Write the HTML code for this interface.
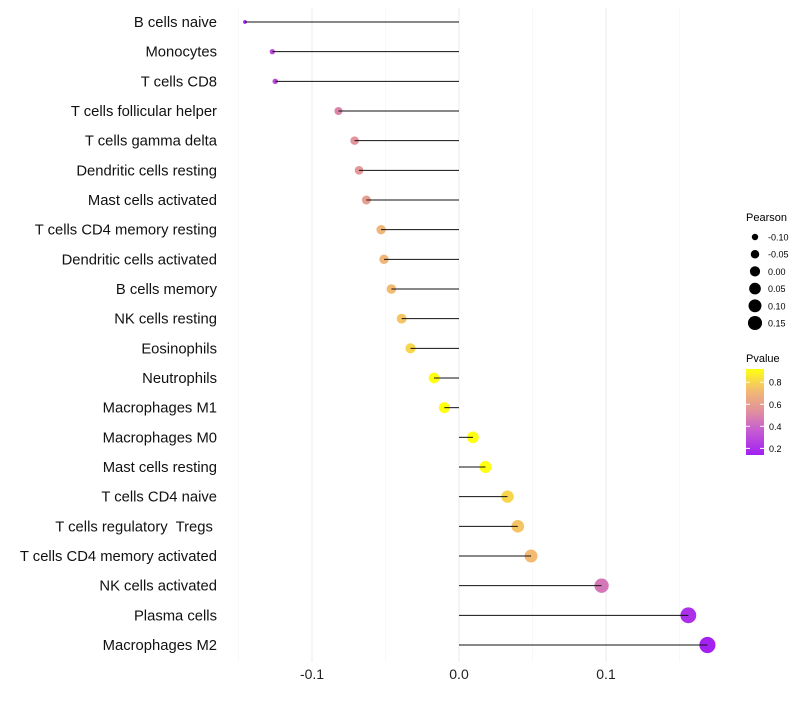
<!DOCTYPE html>
<html><head><meta charset="utf-8"><style>
body{margin:0;background:#fff;font-family:"Liberation Sans",sans-serif}
text{white-space:pre}
</style></head><body>
<svg id="chart" width="800" height="700" xmlns="http://www.w3.org/2000/svg">
<defs><linearGradient id="pg" x1="0" y1="1" x2="0" y2="0">
<stop offset="0" stop-color="#a21ff2"/><stop offset="0.3" stop-color="#c860d0"/><stop offset="0.5" stop-color="#e08ea0"/><stop offset="0.75" stop-color="#f2bb72"/><stop offset="1" stop-color="#ffff10"/></linearGradient></defs>
<g id="grid"></g>
<g id="dots"></g>
<g id="marks"></g>
<g id="labels"></g>
<g id="xt"></g>
<g>
<text x="746" y="221" font-size="11">Pearson</text>
<g id="sizeleg"></g>
</g>
<g>
<text x="746" y="362" font-size="11">Pvalue</text>
<rect x="746" y="369" width="18" height="86" fill="url(#pg)"/>
<g id="colleg"></g>
</g>
</svg>
<script>
const cells=["B cells naive","Monocytes","T cells CD8","T cells follicular helper","T cells gamma delta","Dendritic cells resting","Mast cells activated","T cells CD4 memory resting","Dendritic cells activated","B cells memory","NK cells resting","Eosinophils","Neutrophils","Macrophages M1","Macrophages M0","Mast cells resting","T cells CD4 naive","T cells regulatory  Tregs ","T cells CD4 memory activated","NK cells activated","Plasma cells","Macrophages M2"];
const pearson=[-0.1456,-0.127,-0.125,-0.082,-0.071,-0.068,-0.063,-0.053,-0.051,-0.046,-0.039,-0.033,-0.017,-0.010,0.0095,0.018,0.033,0.040,0.049,0.097,0.156,0.169];
const pvalue=[0.15,0.3,0.3,0.5,0.55,0.57,0.6,0.7,0.7,0.72,0.75,0.8,0.95,0.95,0.98,0.95,0.8,0.75,0.72,0.45,0.2,0.15];
const xTicks=[-0.1,0.0,0.1];
const xTickLabels=["-0.1","0.0","0.1"];
const sizeLegend=[-0.10,-0.05,0.00,0.05,0.10,0.15];
const colTicks=[0.8,0.6,0.4,0.2];
const NS="http://www.w3.org/2000/svg";
const X=v=>459+v*1470;
const Y=i=>22+i*(623/21);
const R=v=>Math.sqrt(Math.max(2.5,25.6+156*v))*1.12;
const cy=p=>455-(p-0.14)/0.78*86;
const stops=[[0.14,[162,31,242]],[0.37,[200,96,208]],[0.53,[224,142,160]],[0.725,[242,187,114]],[0.92,[255,255,16]]];
function col(p){p=Math.max(0.14,Math.min(0.92,p));for(let k=0;k<stops.length-1;k++){const[a,ca]=stops[k],[b,cb]=stops[k+1];if(p<=b){const t=(p-a)/(b-a);return"rgb("+ca.map((c,j)=>Math.round(c+(cb[j]-c)*t)).join(",")+")";}}return"rgb(255,255,16)";}
function mk(t,a,p){const e=document.createElementNS(NS,t);for(const k in a)e.setAttribute(k,a[k]);p.appendChild(e);return e;}
const grid=document.getElementById('grid'),marks=document.getElementById('marks'),dots=document.getElementById('dots'),labels=document.getElementById('labels'),xt=document.getElementById('xt');
[-0.15,-0.05,0.05,0.15].forEach(v=>{const l=mk('line',{x1:X(v),x2:X(v),y1:8,y2:662,stroke:'#f3f3f3','stroke-width':0.6},grid);});
xTicks.forEach((v,i)=>{const l=mk('line',{x1:X(v),x2:X(v),y1:8,y2:662,stroke:'#ebebeb','stroke-width':1},grid);
const t=mk('text',{x:X(v),y:679,'font-size':14,'text-anchor':'middle',fill:'#222'},xt);t.textContent=xTickLabels[i];});
cells.forEach((c,i)=>{const y=Y(i);
const d=mk('circle',{cx:X(pearson[i]),cy:y,r:R(pearson[i]),fill:col(pvalue[i])},dots);
const l=mk('line',{x1:X(0),x2:X(pearson[i]),y1:y,y2:y,stroke:'#111','stroke-width':1},marks);
const t=mk('text',{x:217,y:y+5,'font-size':14.8,'text-anchor':'end',fill:'#111'},labels);t.textContent=c;});
const sl=document.getElementById('sizeleg');
sizeLegend.forEach((v,i)=>{const y=237+i*17.2;const d=mk('circle',{cx:755,cy:y,r:R(v)*0.9,fill:'#000'},sl);
const t=mk('text',{x:768,y:y+3.5,'font-size':9},sl);t.textContent=v.toFixed(2);});
const cl=document.getElementById('colleg');
colTicks.forEach(p=>{const y=cy(p);const t=mk('text',{x:769,y:y+3.5,'font-size':9},cl);t.textContent=p.toFixed(1);
mk('line',{x1:746,x2:750,y1:y,y2:y,stroke:'#fff'},cl);mk('line',{x1:760,x2:764,y1:y,y2:y,stroke:'#fff'},cl);});
</script>
</body></html>
